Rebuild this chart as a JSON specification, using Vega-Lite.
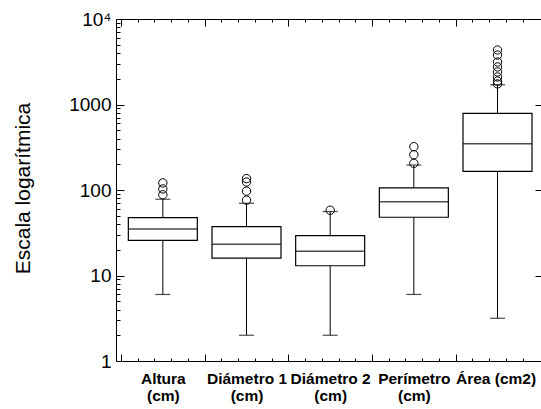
{
  "$schema": "https://vega.github.io/schema/vega-lite/v6.json",
  "width": 425,
  "height": 342,
  "autosize": {"type": "none"},
  "padding": {"left": 116, "top": 19, "right": 0, "bottom": 48},
  "background": "white",
  "config": {
    "view": {"stroke": null},
    "axis": {"domainColor": "#000", "tickColor": "#000", "labelColor": "#000", "titleColor": "#000", "labelFont": "Liberation Sans", "titleFont": "Liberation Sans", "grid": false, "domainWidth": 1, "tickWidth": 1}
  },
  "datasets": {
    "stats": [
      {"n": 0, "variable": "Altura (cm)", "lower": 6.0, "q1": 25.8, "median": 35, "q3": 47.4, "upper": 78},
      {"n": 1, "variable": "Diámetro 1 (cm)", "lower": 2.0, "q1": 16, "median": 23.2, "q3": 37.2, "upper": 70},
      {"n": 2, "variable": "Diámetro 2 (cm)", "lower": 2.0, "q1": 13, "median": 19.2, "q3": 29.2, "upper": 56},
      {"n": 3, "variable": "Perímetro (cm)", "lower": 6.0, "q1": 48, "median": 73, "q3": 106, "upper": 196},
      {"n": 4, "variable": "Área (cm2)", "lower": 3.16, "q1": 165, "median": 348, "q3": 789, "upper": 1700}
    ],
    "outliers": [
      {"n": 0, "value": 88}, {"n": 0, "value": 103}, {"n": 0, "value": 121},
      {"n": 1, "value": 76}, {"n": 1, "value": 97}, {"n": 1, "value": 124}, {"n": 1, "value": 136},
      {"n": 2, "value": 58},
      {"n": 3, "value": 205}, {"n": 3, "value": 259}, {"n": 3, "value": 321},
      {"n": 4, "value": 1740}, {"n": 4, "value": 1880}, {"n": 4, "value": 2100}, {"n": 4, "value": 2400},
      {"n": 4, "value": 2750}, {"n": 4, "value": 3140}, {"n": 4, "value": 3790}, {"n": 4, "value": 4340}
    ]
  },
  "layer": [
    {
      "data": {"name": "stats"},
      "mark": {"type": "rule", "color": "#000", "strokeWidth": 1},
      "encoding": {
        "x": {
          "field": "n", "type": "quantitative",
          "scale": {"domain": [-0.5, 4.46], "nice": false, "zero": false},
          "axis": {
            "orient": "bottom", "title": null,
            "values": [-0.5, -0.3, -0.1, 0, 0.1, 0.3, 0.5, 0.7, 0.9, 1, 1.1, 1.3, 1.5, 1.7, 1.9, 2, 2.1, 2.3, 2.5, 2.7, 2.9, 3, 3.1, 3.3, 3.5, 3.7, 3.9, 4, 4.1, 4.3],
            "tickSize": {"condition": {"test": "abs(datum.value - round(datum.value)) > 0.45", "value": -7}, "value": -3},
            "tickOpacity": {"condition": {"test": "abs(datum.value - round(datum.value)) < 0.01", "value": 0}, "value": 1},
            "labelExpr": "abs(datum.value - round(datum.value)) < 0.01 ? (round(datum.value) == 0 ? ['Altura', '(cm)'] : round(datum.value) == 1 ? ['Diámetro 1', '(cm)'] : round(datum.value) == 2 ? ['Diámetro 2', '(cm)'] : round(datum.value) == 3 ? ['Perímetro', '(cm)'] : 'Área (cm2)') : ''",
            "labelFontSize": 15.5, "labelFontWeight": "bold", "labelPadding": 13, "labelLineHeight": 17,
            "labelBaseline": "top", "labelOverlap": false, "labelBound": false, "labelFlush": false,
            "labelOffset": {"condition": {"test": "datum.value > 3.9", "value": -2}, "value": 0}
          }
        },
        "y": {
          "field": "lower", "type": "quantitative",
          "scale": {"type": "log", "domain": [1, 10000], "nice": false},
          "axis": {
            "orient": "left",
            "values": [1, 2, 3, 4, 5, 6, 7, 8, 9, 10, 20, 30, 40, 50, 60, 70, 80, 90, 100, 200, 300, 400, 500, 600, 700, 800, 900, 1000, 2000, 3000, 4000, 5000, 6000, 7000, 8000, 9000, 10000],
            "tickSize": {"condition": {"test": "abs(log(datum.value)/LN10 - round(log(datum.value)/LN10)) < 0.001", "value": -8}, "value": -4},
            "labelExpr": "datum.value == 10000 ? '10⁴' : abs(log(datum.value)/LN10 - round(log(datum.value)/LN10)) < 0.001 ? format(datum.value, 'd') : ''",
            "labelFontSize": 19, "labelPadding": 13, "labelOverlap": false, "labelBound": false, "labelFlush": false, "labelBaseline": "middle",
            "title": "Escala logarítmica", "titleFontSize": 21, "titleFontWeight": "normal",
            "titleX": -93, "titleY": 169, "titleAngle": -90, "titleBaseline": "middle", "titleAlign": "center"
          }
        },
        "y2": {"field": "upper"}
      }
    },
    {
      "data": {"name": "stats"},
      "mark": {"type": "bar", "fill": "white", "stroke": "#000", "strokeWidth": 1.2, "width": 69},
      "encoding": {
        "x": {
          "field": "n", "type": "quantitative",
          "axis": {
            "orient": "top", "title": null, "labels": false,
            "values": [-0.5, -0.3, -0.1, 0, 0.1, 0.3, 0.5, 0.7, 0.9, 1, 1.1, 1.3, 1.5, 1.7, 1.9, 2, 2.1, 2.3, 2.5, 2.7, 2.9, 3, 3.1, 3.3, 3.5, 3.7, 3.9, 4, 4.1, 4.3],
            "tickSize": {"condition": {"test": "abs(datum.value - round(datum.value)) > 0.45", "value": -7}, "value": -3},
            "tickOpacity": {"condition": {"test": "abs(datum.value - round(datum.value)) < 0.01", "value": 0}, "value": 1}
          }
        },
        "y": {
          "field": "q1", "type": "quantitative",
          "axis": {"orient": "right", "title": null, "labels": false, "domain": false, "values": [10, 100, 1000], "tickSize": -6}
        },
        "y2": {"field": "q3"}
      }
    },
    {
      "data": {"name": "stats"},
      "mark": {"type": "tick", "orient": "horizontal", "color": "#000", "size": 69, "thickness": 1.4},
      "encoding": {
        "x": {"field": "n", "type": "quantitative", "axis": null},
        "y": {"field": "median", "type": "quantitative", "axis": null}
      }
    },
    {
      "data": {"name": "stats"},
      "mark": {"type": "tick", "orient": "horizontal", "color": "#000", "size": 15, "thickness": 1.2},
      "encoding": {
        "x": {"field": "n", "type": "quantitative", "axis": null},
        "y": {"field": "lower", "type": "quantitative", "axis": null}
      }
    },
    {
      "data": {"name": "stats"},
      "mark": {"type": "tick", "orient": "horizontal", "color": "#000", "size": 15, "thickness": 1.2},
      "encoding": {
        "x": {"field": "n", "type": "quantitative", "axis": null},
        "y": {"field": "upper", "type": "quantitative", "axis": null}
      }
    },
    {
      "data": {"name": "outliers"},
      "mark": {"type": "point", "shape": "circle", "filled": false, "stroke": "#000", "strokeWidth": 1, "size": 70, "opacity": 1},
      "encoding": {
        "x": {"field": "n", "type": "quantitative", "axis": null},
        "y": {"field": "value", "type": "quantitative", "axis": null}
      }
    }
  ],
  "resolve": {"axis": {"x": "independent", "y": "independent"}}
}
